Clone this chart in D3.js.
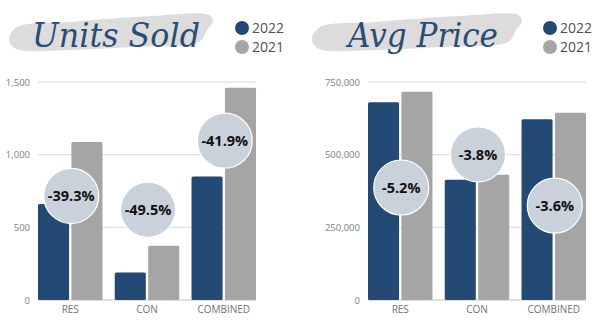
<!DOCTYPE html>
<html>
<head>
<meta charset="utf-8">
<script src="https://cdn.jsdelivr.net/npm/d3@7"></script>
<style>
  html, body { margin: 0; padding: 0; background: #fff; }
  svg { display: block; font-family: "Open Sans", sans-serif; }
</style>
</head>
<body>
<svg id="chart" width="600" height="325"></svg>
<script>
// Sales categories shared by both panels
const categories = ["RES", "CON", "COMBINED"];
const years = ["2022", "2021"];

// Units sold per category
const units2022 = [660, 189, 849];
const units2021 = [1087, 374, 1461];
const unitsChange = ["-39.3%", "-49.5%", "-41.9%"];
const unitsBadgeAt = [716, 621, 1096];
const unitsTicks = [0, 500, 1000, 1500];

// Average price per category
const price2022 = [680000, 414000, 621600];
const price2021 = [716500, 430500, 644500];
const priceChange = ["-5.2%", "-3.8%", "-3.6%"];
const priceBadgeAt = [387000, 501000, 325000];
const priceTicks = [0, 250000, 500000, 750000];

const colors = { "2022": "#234a74", "2021": "#a5a5a5" };

const svg = d3.select("#chart");

function panel(opts) {
  const g = svg.append("g");
  const x = d3.scaleBand().domain(categories)
    .range([opts.left, opts.left + 218]).paddingInner(0.16).paddingOuter(0);
  const xs = d3.scaleBand().domain(years).range([0, x.bandwidth()]).paddingInner(0.07);
  const y = d3.scaleLinear().domain([0, opts.max]).range([300, 82]);

  // gridlines
  g.append("g").selectAll("line").data(opts.ticks.slice(1)).join("line")
    .attr("x1", opts.left).attr("x2", opts.left + 218)
    .attr("y1", d => y(d)).attr("y2", d => y(d))
    .attr("stroke", "#dadada").attr("stroke-width", 1);
  g.append("line")
    .attr("x1", opts.left).attr("x2", opts.left + 218)
    .attr("y1", y(0)).attr("y2", y(0))
    .attr("stroke", "#bfbfbf").attr("stroke-width", 1);

  // y axis labels
  const yAxis = d3.axisLeft(y).tickValues(opts.ticks).tickSize(0).tickPadding(8)
    .tickFormat(d3.format(","));
  const ya = g.append("g").attr("transform", `translate(${opts.left},0)`).call(yAxis);
  ya.select(".domain").remove();
  ya.selectAll("text").attr("fill", "#808080").style("font-size", "9.5px")
    .style("font-family", "'Open Sans', sans-serif");

  // x axis labels
  const xAxis = d3.axisBottom(x).tickSize(0).tickPadding(6);
  const xa = g.append("g").attr("transform", `translate(0,${y(0)})`).call(xAxis);
  xa.select(".domain").remove();
  xa.selectAll("text").attr("fill", "#737373").style("font-size", "10px")
    .style("font-family", "'Open Sans', sans-serif");

  // bars
  const rows = categories.map((c, i) => ({ c, i, vals: [
    { yr: "2022", v: opts.a[i] }, { yr: "2021", v: opts.b[i] }] }));
  const grp = g.append("g").selectAll("g").data(rows).join("g")
    .attr("transform", d => `translate(${x(d.c)},0)`);
  grp.selectAll("rect").data(d => d.vals).join("rect")
    .attr("x", d => xs(d.yr)).attr("width", xs.bandwidth())
    .attr("y", d => y(d.v)).attr("height", d => y(0) - y(d.v))
    .attr("rx", 1.5)
    .attr("fill", d => colors[d.yr]);

  // change badges
  const badge = g.append("g").selectAll("g").data(rows).join("g")
    .attr("transform", d => `translate(${x(d.c) + x.bandwidth() / 2 + 1},${y(opts.badge[d.i])})`);
  badge.append("circle").attr("r", 27.5)
    .attr("fill", "#c9d1da").attr("stroke", "#ffffff").attr("stroke-width", 1.2);
  badge.append("text").attr("text-anchor", "middle").attr("dy", "0.36em")
    .style("font-size", "14.5px").style("font-weight", "700").attr("fill", "#111")
    .text(d => opts.change[d.i]);

  // title brush stroke
  const bx = opts.brushX, bw = opts.brushW;
  const brush = d3.line().curve(d3.curveCatmullRomClosed)([
    [bx, 38], [bx + 8, 27], [bx + 0.3 * bw, 22], [bx + 0.7 * bw, 16], [bx + bw - 4, 15],
    [bx + bw, 21], [bx + bw - 6, 30], [bx + bw - 14, 42], [bx + 0.6 * bw, 47],
    [bx + 0.3 * bw, 50], [bx + 10, 50], [bx + 2, 45]
  ]);
  g.append("path").attr("d", brush).attr("fill", "#dcdcdc");
  g.append("text").attr("x", opts.titleX).attr("y", 47)
    .style("font-family", "'DejaVu Serif', serif").style("font-style", "italic")
    .style("font-weight", "400").style("font-size", "34px")
    .attr("fill", "#2a4d74").attr("textLength", opts.titleW)
    .attr("lengthAdjust", "spacingAndGlyphs")
    .text(opts.title);

  // legend
  const lg = g.append("g").selectAll("g").data(years).join("g")
    .attr("transform", (d, i) => `translate(${opts.legendX},${28 + i * 19})`);
  lg.append("circle").attr("r", 7).attr("fill", d => colors[d]);
  lg.append("text").attr("x", 10).attr("dy", "0.36em")
    .style("font-size", "14px").attr("fill", "#505050").text(d => d);
}

panel({ left: 38, max: 1500, ticks: unitsTicks, a: units2022, b: units2021,
  change: unitsChange, badge: unitsBadgeAt, title: "Units Sold",
  titleX: 32, titleW: 168, brushX: 9, brushW: 204, legendX: 242 });
panel({ left: 368, max: 750000, ticks: priceTicks, a: price2022, b: price2021,
  change: priceChange, badge: priceBadgeAt, title: "Avg Price",
  titleX: 348, titleW: 150, brushX: 312, brushW: 210, legendX: 550 });
</script>
</body>
</html>
